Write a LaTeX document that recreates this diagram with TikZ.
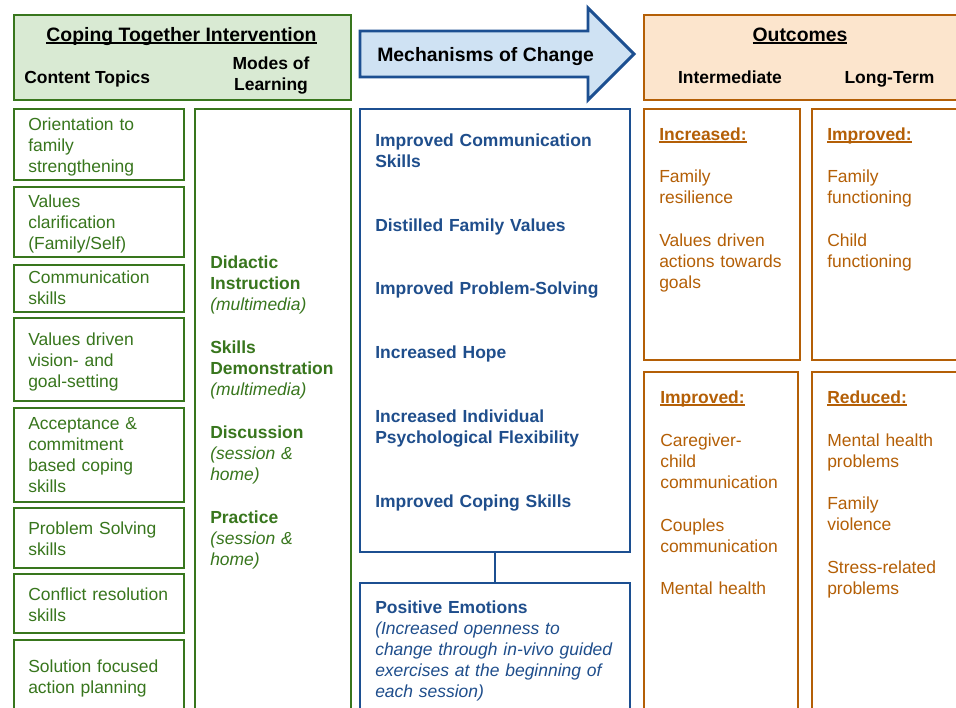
\documentclass[tikz,border=0pt]{standalone}
\usepackage{fontspec}
\setmainfont{Liberation Sans}
\usetikzlibrary{fit}
\definecolor{gdark}{HTML}{38761D}
\definecolor{gfill}{HTML}{D9EAD3}
\definecolor{bdark}{HTML}{1C4F91}
\definecolor{btext}{HTML}{1F4E8C}
\definecolor{bfill}{HTML}{CFE2F3}
\definecolor{odark}{HTML}{B45F06}
\definecolor{ofill}{HTML}{FCE5CD}
\newsavebox\ulbox
\newcommand\ulx[1]{\sbox\ulbox{#1}\rlap{\rule[-1.9pt]{\wd\ulbox}{0.95pt}}\usebox\ulbox}
\begin{document}
\begin{tikzpicture}[x=0.75pt,y=-0.75pt,
  gbox/.style={draw=gdark, line width=2.2pt, inner sep=0pt},
  bbox/.style={draw=bdark, line width=2.2pt, inner sep=0pt},
  obox/.style={draw=odark, line width=2.2pt, inner sep=0pt},
  body/.style={font=\fontsize{13.1}{15.9}\selectfont, inner sep=0pt, anchor=base west, text width=220pt, align=left},
  hdr/.style={font=\fontsize{13.1}{15.9}\selectfont\bfseries, inner sep=0pt, text=black},
  ttl/.style={font=\fontsize{14.55}{17}\selectfont\bfseries, inner sep=0pt, text=black, anchor=base},
  gt/.style={body, text=gdark},
  bt/.style={body, text=btext},
  ot/.style={body, text=odark}]
\clip (0,0) rectangle (956,707);
\fill[white] (0,0) rectangle (956,707);

% ---------- Coping Together Intervention ----------
\node[gbox, fill=gfill, fit={(14,15)(351,100)}] (ghead) {};
\node[ttl] (gtitle) at (181.5,41) {\ulx{Coping Together Intervention}};
\node[hdr, anchor=base west] (gct) at (24,83) {Content Topics};
\node[hdr, anchor=base] (gml1) at (271,69) {Modes of};
\node[hdr, anchor=base] (gml2) at (271,90) {Learning};

\node[gbox, fit={(14,109)(184,180)}] (t1) {};
\node[gbox, fit={(14,187)(184,257)}] (t2) {};
\node[gbox, fit={(14,265)(184,312)}] (t3) {};
\node[gbox, fit={(14,318)(184,401)}] (t4) {};
\node[gbox, fit={(14,408)(184,502)}] (t5) {};
\node[gbox, fit={(14,508)(184,568)}] (t6) {};
\node[gbox, fit={(14,574)(184,633)}] (t7) {};
\node[gbox, fit={(14,640)(184,720)}] (t8) {};
\node[gbox, fit={(195,109)(351,720)}] (modes) {};

\node[gt] (t1x) at (28,130) {Orientation to\\family\\strengthening};
\node[gt] (t2x) at (28,207) {Values\\clarification\\(Family/Self)};
\node[gt] (t3x) at (28,283) {Communication\\skills};
\node[gt] (t4x) at (28,345) {Values driven\\vision- and\\goal-setting};
\node[gt] (t5x) at (28,429) {Acceptance \&\\commitment\\based coping\\skills};
\node[gt] (t6x) at (28,534) {Problem Solving\\skills};
\node[gt] (t7x) at (28,600) {Conflict resolution\\skills};
\node[gt] (t8x) at (28,672) {Solution focused\\action planning};

\node[gt] (m1) at (210,268) {\textbf{Didactic}\\\textbf{Instruction}\\\textit{(multimedia)}};
\node[gt] (m2) at (210,353) {\textbf{Skills}\\\textbf{Demonstration}\\\textit{(multimedia)}};
\node[gt] (m3) at (210,438) {\textbf{Discussion}\\\textit{(session \&}\\\textit{home)}};
\node[gt] (m4) at (210,523) {\textbf{Practice}\\\textit{(session \&}\\\textit{home)}};

% ---------- Mechanisms of Change ----------
\draw[draw=bdark, fill=bfill, line width=2.2pt, line join=miter]
  (360,31) -- (588,31) -- (588,8) -- (634,54) -- (588,100) -- (588,77) -- (360,77) -- cycle;
\node[ttl, anchor=base west] (mtitle) at (377,61) {Mechanisms of Change};

\node[bbox, fit={(360,109)(630,552)}] (mech) {};
\node[bt, font=\fontsize{13.1}{15.9}\selectfont\bfseries] (k1) at (375,146) {Improved Communication\\Skills};
\node[bt, font=\fontsize{13.1}{15.9}\selectfont\bfseries] (k2) at (375,231) {Distilled Family Values};
\node[bt, font=\fontsize{13.1}{15.9}\selectfont\bfseries] (k3) at (375,294) {Improved Problem-Solving};
\node[bt, font=\fontsize{13.1}{15.9}\selectfont\bfseries] (k4) at (375,358) {Increased Hope};
\node[bt, font=\fontsize{13.1}{15.9}\selectfont\bfseries] (k5) at (375,422) {Increased Individual\\Psychological Flexibility};
\node[bt, font=\fontsize{13.1}{15.9}\selectfont\bfseries] (k6) at (375,507) {Improved Coping Skills};

\node[bbox, fit={(360,583)(630,720)}] (pos) {};
\node[bt] (posx) at (375,613) {\textbf{Positive Emotions}\\\textit{(Increased openness to}\\\textit{change through in-vivo guided}\\\textit{exercises at the beginning of}\\\textit{each session)}};
\draw[draw=bdark, line width=2.2pt] (mech.south) -- (pos.north);

% ---------- Outcomes ----------
\node[obox, fill=ofill, fit={(644,15)(962,100)}] (ohead) {};
\node[ttl] (otitle) at (800,41) {\ulx{Outcomes}};
\node[hdr, anchor=base] (oint) at (730,83) {Intermediate};
\node[hdr, anchor=base] (olt) at (889.5,83) {Long-Term};

\node[obox, fit={(644,109)(800,360)}] (o1) {};
\node[obox, fit={(812,109)(962,360)}] (o2) {};
\node[obox, fit={(644,372)(798,720)}] (o3) {};
\node[obox, fit={(812,372)(962,720)}] (o4) {};

\node[ot] (o1h) at (659,140) {\textbf{\ulx{Increased:}}};
\node[ot] (o1a) at (659,182) {Family\\resilience};
\node[ot] (o1b) at (659,246) {Values driven\\actions towards\\goals};

\node[ot] (o2h) at (827,140) {\textbf{\ulx{Improved:}}};
\node[ot] (o2a) at (827,182) {Family\\functioning};
\node[ot] (o2b) at (827,246) {Child\\functioning};

\node[ot] (o3h) at (660,403) {\textbf{\ulx{Improved:}}};
\node[ot] (o3a) at (660,446) {Caregiver-\\child\\communication};
\node[ot] (o3b) at (660,531) {Couples\\communication};
\node[ot] (o3c) at (660,594) {Mental health};

\node[ot] (o4h) at (827,403) {\textbf{\ulx{Reduced:}}};
\node[ot] (o4a) at (827,446) {Mental health\\problems};
\node[ot] (o4b) at (827,509) {Family\\violence};
\node[ot] (o4c) at (827,573) {Stress-related\\problems};
\end{tikzpicture}
\end{document}
